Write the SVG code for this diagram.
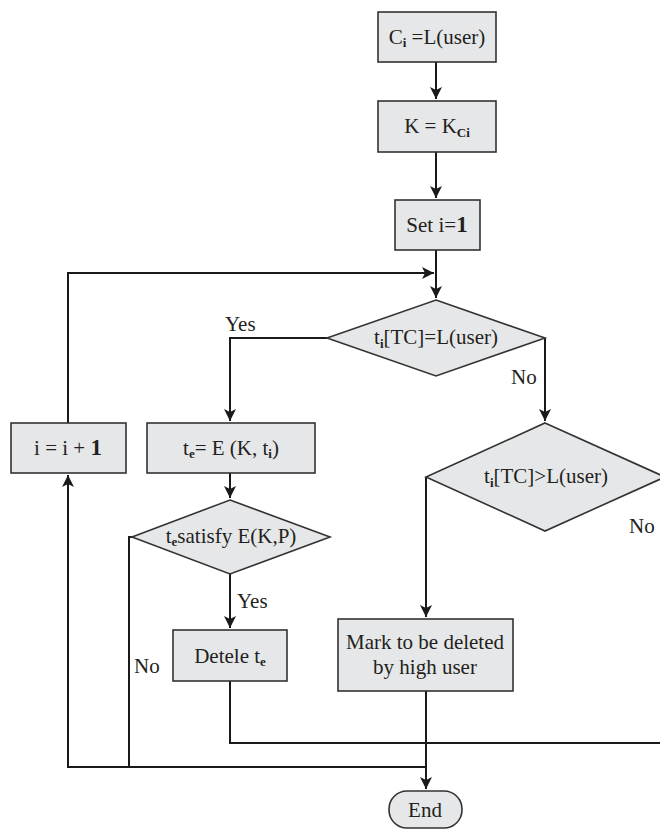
<svg xmlns="http://www.w3.org/2000/svg" width="660" height="829" viewBox="0 0 660 829">
  <defs>
    <style>
      .node { fill: #e6e7e8; stroke: #333333; stroke-width: 1.6; }
      .txt { font-family: "Liberation Serif", "DejaVu Serif", serif; font-size: 21px; fill: #231f20; }
      .mid { text-anchor: middle; }
      .sub { font-size: 13px; font-weight: bold; }
      .b { font-weight: bold; font-size: 23px; }
      .wire { fill: none; stroke: #1a1a1a; stroke-width: 2; }
    </style>
    <marker id="arr" viewBox="0 0 12 12" refX="12" refY="6" markerWidth="12" markerHeight="12" markerUnits="userSpaceOnUse" orient="auto">
      <path d="M0,0 L12,6 L0,12 L3,6 z" fill="#1a1a1a"/>
    </marker>
  </defs>
  <rect width="660" height="829" fill="#ffffff"/>

  <!-- connectors -->
  <g id="connectors">
    <path class="wire" d="M436,62 V99" marker-end="url(#arr)"/>
    <path class="wire" d="M436,152 V198" marker-end="url(#arr)"/>
    <path class="wire" d="M436,250 V298" marker-end="url(#arr)"/>
    <path class="wire" d="M68,423 V273 H434" marker-end="url(#arr)"/>
    <path class="wire" d="M327,338 H230 V421" marker-end="url(#arr)"/>
    <path class="wire" d="M545,338 V421" marker-end="url(#arr)"/>
    <path class="wire" d="M426,477 V617" marker-end="url(#arr)"/>
    <path class="wire" d="M426,691 V789" marker-end="url(#arr)"/>
    <path class="wire" d="M230,473 V498" marker-end="url(#arr)"/>
    <path class="wire" d="M230,574 V628" marker-end="url(#arr)"/>
    <path class="wire" d="M132,537 H129 V767"/>
    <path class="wire" d="M230,681 V743 H660"/>
    <path class="wire" d="M426,767 H68 V475" marker-end="url(#arr)"/>
  </g>

  <!-- edge labels -->
  <g id="labels" class="txt">
    <text x="225" y="331">Yes</text>
    <text x="511" y="384">No</text>
    <text x="629" y="533">No</text>
    <text x="237" y="608">Yes</text>
    <text x="134" y="673">No</text>
  </g>

  <g id="n-class">
    <rect class="node" x="378" y="12" width="118" height="50"/>
    <text class="txt mid" x="437" y="44">C<tspan class="sub" dy="3">i</tspan><tspan dy="-3"> =L(user)</tspan></text>
  </g>

  <g id="n-key">
    <rect class="node" x="378" y="101" width="118" height="51"/>
    <text class="txt mid" x="437" y="133">K = K<tspan class="sub" dy="4">Ci</tspan></text>
  </g>

  <g id="n-init">
    <rect class="node" x="395" y="200" width="85" height="50"/>
    <text class="txt mid" x="437" y="232">Set i=<tspan class="b">1</tspan></text>
  </g>

  <g id="n-eq">
    <polygon class="node" points="436,300 545,338 436,376 327,338"/>
    <text class="txt mid" x="436" y="344">t<tspan class="sub" dy="4">i</tspan><tspan dy="-4">[TC]=L(user)</tspan></text>
  </g>

  <g id="n-gt">
    <polygon class="node" points="545,423 665,477 545,531 426,477"/>
    <text class="txt mid" x="546" y="483">t<tspan class="sub" dy="4">i</tspan><tspan dy="-4">[TC]&gt;L(user)</tspan></text>
  </g>

  <g id="n-inc">
    <rect class="node" x="11" y="423" width="115" height="50"/>
    <text class="txt mid" x="68" y="455">i = i + <tspan class="b">1</tspan></text>
  </g>

  <g id="n-enc">
    <rect class="node" x="147" y="423" width="168" height="50"/>
    <text class="txt mid" x="231" y="455">t<tspan class="sub" dy="3">e</tspan><tspan dy="-3">= E (K, t</tspan><tspan class="sub" dy="3">i</tspan><tspan dy="-3">)</tspan></text>
  </g>

  <g id="n-sat">
    <polygon class="node" points="230,500 330,537 230,574 132,537"/>
    <text class="txt mid" x="231" y="543">t<tspan class="sub" dy="3">e</tspan><tspan dy="-3">satisfy E(K,P)</tspan></text>
  </g>

  <g id="n-del">
    <rect class="node" x="173" y="630" width="114" height="51"/>
    <text class="txt mid" x="230" y="663">Detele t<tspan class="sub" dy="3">e</tspan></text>
  </g>

  <g id="n-mark">
    <rect class="node" x="338" y="619" width="175" height="72"/>
    <text class="txt mid" x="425" y="649">Mark to be deleted</text>
    <text class="txt mid" x="425" y="674">by high user</text>
  </g>

  <g id="n-end">
    <rect class="node" x="389" y="791" width="73" height="37" rx="18" ry="18"/>
    <text class="txt mid" x="425" y="817">End</text>
  </g>
</svg>
